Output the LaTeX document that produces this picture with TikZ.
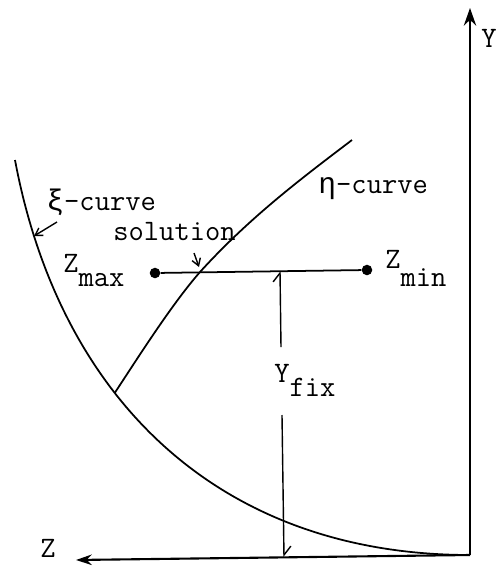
\documentclass[tikz,border=0pt]{standalone}
\usepackage{fontspec}
\newfontfamily\grk{Liberation Mono}
\usetikzlibrary{arrows.meta}
\tikzset{
  curve/.style={line width=1pt},
  axis/.style={line width=1.2pt},
  lbl/.style={anchor=base west,inner sep=0pt},
  dot/.style={circle,fill,inner sep=0pt,minimum size=6pt},
  barb/.style={line width=0.8pt,-{Straight Barb[length=4pt,width=5pt]}},
  half/.style={line width=0.8pt,-{Straight Barb[left,length=5pt,width=8pt]}}
}
\begin{document}
\begin{tikzpicture}[x=0.02cm,y=-0.02cm,font=\ttfamily\fontsize{16.9}{18}\selectfont]
  \useasboundingbox (0,0) rectangle (500,566);
  \coordinate (O) at (470,555);
  \coordinate (ytip) at (470,8);
  \coordinate (ztip) at (76,560);
  \draw[axis,-{Stealth[length=10pt,width=7pt]}] (O) -- (ytip);
  \draw[axis,-{Stealth[length=9pt,width=6pt]}] (O) -- (ztip);
  \node[lbl] (ylab) at (481,47) {Y};
  \node[lbl] (zlab) at (40,557) {Z};
  \draw[curve] (15,160) .. controls (60,400) and (220,555) .. (O)
    coordinate[pos=0.11] (xihit) coordinate[pos=0.38] (meet);
  \coordinate (sol) at (200,272);
  \coordinate (etatop) at (352,140);
  \draw[curve] (meet) .. controls (139,356) and (172,304) .. (sol)
    .. controls (250,217) and (302,178) .. (etatop);
  \node[dot] (zmax) at (155,273) {};
  \node[dot] (zmin) at (367,270) {};
  \draw[curve] (zmax) -- (zmin);
  \node[lbl] (zmaxlab) at (63,272) {Z\raisebox{-8.5pt}{max}};
  \node[lbl] (zminlab) at (385,268) {Z\raisebox{-10.8pt}{min}};
  \node[lbl] (xilab) at (46,210) {{\grk ξ}-curve};
  \node[lbl] (etalab) at (318,193) {{\grk η}-curve};
  \node[lbl] (sollab) at (113,240) {solution};
  \node[lbl] (yfixlab) at (274,382) {Y\raisebox{-8.5pt}{fix}};
  \coordinate (xifoot) at (57,222);
  \draw[barb] (xifoot) -- (xihit);
  \coordinate (solfoot) at (194,253);
  \coordinate (solhead) at (199,267);
  \draw[barb] (solfoot) -- (solhead);
  \coordinate (fixtop) at (280,271);
  \coordinate (fixbot) at (284,557);
  \coordinate (gaptop) at (281,347);
  \coordinate (gapbot) at (282,415);
  \draw[half] (gaptop) -- (fixtop);
  \draw[half] (gapbot) -- (fixbot);
\end{tikzpicture}
\end{document}
